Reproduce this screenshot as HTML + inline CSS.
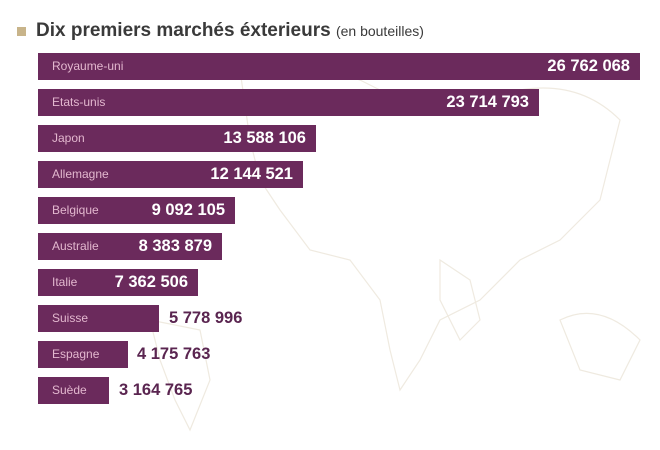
<!DOCTYPE html>
<html><head><meta charset="utf-8"><style>
body{margin:0;width:660px;height:450px;background:#fff;font-family:"Liberation Sans",sans-serif;position:relative;overflow:hidden}
.t{position:absolute;left:36px;top:20px;font-size:19px;font-weight:bold;color:#3a3a3a;white-space:nowrap}
.t span{font-weight:normal;font-size:14px}
.sq{position:absolute;left:17px;top:27px;width:9px;height:9px;background:#c8b48a}
.b{position:absolute;left:38px;height:27px;background:#6b2a5c}
.l{position:absolute;left:14px;top:6px;font-size:12px;color:#e3b8cf;white-space:nowrap}
.v{position:absolute;top:4px;font-size:16.5px;font-weight:bold;color:#fff;white-space:nowrap}
.vi{right:10px}
.o{position:absolute;font-size:16.5px;font-weight:bold;color:#5a2550;white-space:nowrap}
</style></head><body>
<svg width="660" height="450" style="position:absolute;left:0;top:0" fill="none" stroke="#efeae0" stroke-width="1.2">
<path d="M240 70 Q300 60 360 80 L400 100 Q440 120 470 95 L520 90 Q580 80 620 120 L600 200 L560 240 L520 260 L480 300 L440 320 L420 360 L400 390 L390 350 L380 300 L350 260 L310 250 L280 210 L260 180 L250 140 Z"/>
<path d="M440 260 L470 280 L480 320 L460 340 L440 300 Z"/>
<path d="M560 320 Q600 300 640 340 L620 380 L580 370 Z"/>
<path d="M150 320 L200 330 L210 380 L190 430 L175 400 L160 360 Z"/>
</svg>
<div class="sq"></div>
<div class="t">Dix premiers marchés éxterieurs <span>(en bouteilles)</span></div>
<div class="b" style="top:53px;width:602px"><div class="l">Royaume-uni</div><div class="v vi">26 762 068</div></div>
<div class="b" style="top:89px;width:501px"><div class="l">Etats-unis</div><div class="v vi">23 714 793</div></div>
<div class="b" style="top:125px;width:278px"><div class="l">Japon</div><div class="v vi">13 588 106</div></div>
<div class="b" style="top:161px;width:265px"><div class="l">Allemagne</div><div class="v vi">12 144 521</div></div>
<div class="b" style="top:197px;width:197px"><div class="l">Belgique</div><div class="v vi">9 092 105</div></div>
<div class="b" style="top:233px;width:184px"><div class="l">Australie</div><div class="v vi">8 383 879</div></div>
<div class="b" style="top:269px;width:160px"><div class="l">Italie</div><div class="v vi">7 362 506</div></div>
<div class="b" style="top:305px;width:121px"><div class="l">Suisse</div></div>
<div class="o" style="left:169px;top:309px">5 778 996</div>
<div class="b" style="top:341px;width:90px"><div class="l">Espagne</div></div>
<div class="o" style="left:137px;top:345px">4 175 763</div>
<div class="b" style="top:377px;width:71px"><div class="l">Suède</div></div>
<div class="o" style="left:119px;top:381px">3 164 765</div>
</body></html>
